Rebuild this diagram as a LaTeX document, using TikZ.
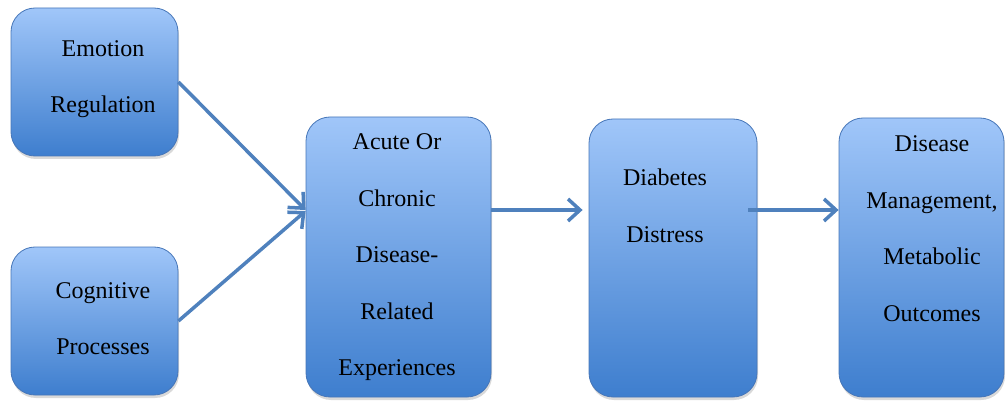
\documentclass[tikz,border=0pt]{standalone}
\usepackage{fontspec}
\setmainfont{Liberation Serif}
\usetikzlibrary{arrows.meta,shadows}
\definecolor{boxtop}{RGB}{160,198,249}
\definecolor{boxbot}{RGB}{62,126,206}
\definecolor{boxedge}{RGB}{70,118,184}
\definecolor{arrowblue}{RGB}{79,129,189}
\begin{document}
\begin{tikzpicture}[
            x=1pt, y=-1pt,
            ent/.style={draw=boxedge, line width=0.8pt, rounded corners=24pt,
                top color=boxtop, bottom color=boxbot,
                drop shadow={shadow xshift=1pt, shadow yshift=-3pt, opacity=0.3},
                inner sep=0pt},
            txt/.style={align=center, font=\fontsize{24}{56.5}\selectfont},
            arr/.style={draw=arrowblue, line width=3.5pt,
                -{Straight Barb[length=12pt,width=22pt]}}
        ]
           \useasboundingbox (0,0) rectangle (1005,401);

           \node[ent, minimum width=167pt, minimum height=148pt,
                 label={[txt, xshift=8.5pt, yshift=3pt]center:Emotion\\Regulation}]
                 (emo) at (94.5,82) {};
           \node[ent, minimum width=167pt, minimum height=148pt,
                 label={[txt, xshift=8.5pt, yshift=2.5pt]center:Cognitive\\Processes}]
                 (cog) at (94.5,321) {};

           \node[ent, minimum width=185pt, minimum height=280pt,
                 label={[txt, xshift=-1.5pt, yshift=-0.5pt]center:Acute Or\\Chronic\\Disease-\\Related\\Experiences}]
                 (acute) at (398.5,257) {};
           \node[ent, minimum width=168pt, minimum height=278pt,
                 label={[txt, xshift=-8pt, yshift=52pt]center:Diabetes\\Distress}]
                 (dist) at (673,258) {};
           \node[ent, minimum width=165pt, minimum height=279pt,
                 label={[txt, xshift=10.5pt, yshift=29pt]center:Disease\\Management,\\Metabolic\\Outcomes}]
                 (outc) at (921.5,257.5) {};

           \draw[arr] (emo.east) -- ([yshift=47pt]acute.west);
           \draw[arr] (cog.east) -- ([yshift=46pt]acute.west);
           \draw[arr, shorten >=6pt] ([yshift=47pt]acute.east) -- ([yshift=48pt]dist.west);
           \draw[arr, shorten <=-9pt] ([yshift=48pt]dist.east) -- ([yshift=47.5pt]outc.west);
        \end{tikzpicture}
\end{document}
